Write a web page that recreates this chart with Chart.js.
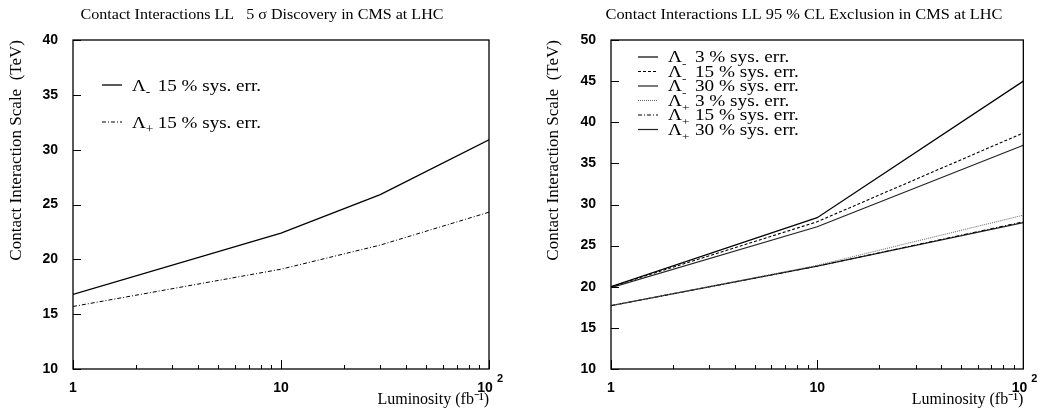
<!DOCTYPE html>
<html>
<head>
<meta charset="utf-8">
<script src="https://cdn.jsdelivr.net/npm/chart.js@4.4.1/dist/chart.umd.min.js"></script>
<style>
html, body { margin: 0; padding: 0; background: #fff; }
#wrap { display: flex; width: 1046px; height: 419px; }
.panel { width: 523px; height: 419px; }
</style>
</head>
<body>
<div id="wrap">
  <div class="panel"><canvas id="discovery" width="523" height="419"></canvas></div>
  <div class="panel"><canvas id="exclusion" width="523" height="419"></canvas></div>
</div>
<script>
// luminosity points (fb^-1)
const lumiDiscovery = [1, 10, 30, 100];
const lumiExclusion = [1, 10, 100];

// 5 sigma discovery reach (TeV)
const discMinus15 = [16.8, 22.4, 25.9, 30.9];
const discPlus15 = [15.7, 19.1, 21.3, 24.3];

// 95 % CL exclusion reach (TeV)
const exclMinus3 = [20.0, 28.4, 45.0];
const exclMinus15 = [20.0, 27.9, 38.7];
const exclMinus30 = [19.9, 27.3, 37.2];
const exclPlus3 = [17.7, 22.6, 28.7];
const exclPlus15 = [17.7, 22.5, 27.9];
const exclPlus30 = [17.7, 22.5, 27.8];

// tick label text, the exponent of 10^2 is drawn by the plugin
const xTickLabels = {1: '1', 10: '10', 100: '10  '};

const SERIF = '"Liberation Serif", "Times New Roman", serif';
const SANS = '"Liberation Sans", Arial, sans-serif';

function pts(xs, ys) {
    return xs.map((x, i) => ({x: x, y: ys[i]}));
}

// text squeezed/stretched horizontally, like the original figure
function drawStretched(ctx, text, x, y, sx) {
    ctx.save();
    ctx.translate(x, y);
    ctx.scale(sx, 1);
    ctx.fillText(text, 0, 0);
    ctx.restore();
    return ctx.measureText(text).width * sx;
}

// frame, inward tick marks, title and legend
const paperStyle = {
    id: 'paperStyle',
    afterDraw(chart, args, opts) {
        const ctx = chart.ctx;
        const a = chart.chartArea;
        const xs = chart.scales.x, ys = chart.scales.y;
        ctx.save();
        ctx.strokeStyle = '#000';
        ctx.lineWidth = 1.3;
        ctx.strokeRect(a.left, a.top, a.right - a.left, a.bottom - a.top);

        // x ticks (log decades)
        ctx.lineWidth = 1;
        for (let d = 1; d <= 100; d *= 10) {
            for (let m = 1; m <= 9; m++) {
                const v = d * m;
                if (v > 100) break;
                const px = Math.round(xs.getPixelForValue(v)) + 0.5;
                const len = m === 1 ? 9 : 4;
                ctx.beginPath();
                ctx.moveTo(px, a.bottom);
                ctx.lineTo(px, a.bottom - len);
                ctx.stroke();
            }
        }
        // y ticks
        ys.ticks.forEach(t => {
            const py = Math.round(ys.getPixelForValue(t.value)) + 0.5;
            ctx.beginPath();
            ctx.moveTo(a.left, py);
            ctx.lineTo(a.left + 8, py);
            ctx.stroke();
        });

        // exponent of the 10^2 tick label
        ctx.fillStyle = '#000';
        ctx.font = 'bold 11px ' + SANS;
        ctx.textAlign = 'left';
        ctx.textBaseline = 'middle';
        ctx.fillText('2', xs.getPixelForValue(100) + 8, a.bottom + 10);

        // title
        ctx.font = '15px ' + SERIF;
        const w = ctx.measureText(opts.title).width;
        const sx = opts.titleWidth / w;
        drawStretched(ctx, opts.title, opts.titleX - opts.titleWidth / 2, 15, sx);

        // legend
        const lg = opts.legend;
        chart.data.datasets.forEach((ds, i) => {
            const yy = lg.y + i * lg.step;
            ctx.save();
            ctx.strokeStyle = ds.borderColor;
            ctx.lineWidth = ds.borderWidth;
            ctx.setLineDash(ds.borderDash || []);
            ctx.beginPath();
            ctx.moveTo(lg.x, yy);
            ctx.lineTo(lg.x + 20, yy);
            ctx.stroke();
            ctx.restore();

            ctx.textBaseline = 'alphabetic';
            let tx = lg.x + 30;
            const base = yy + lg.size * 0.33;
            ctx.font = lg.size + 'px ' + SERIF;
            tx += drawStretched(ctx, 'Λ', tx, base, lg.sx);
            ctx.font = Math.round(lg.size * 0.7) + 'px ' + SERIF;
            drawStretched(ctx, ds.sign, tx, base + lg.size * 0.3, lg.sx);
            tx += lg.gap;
            ctx.font = lg.size + 'px ' + SERIF;
            drawStretched(ctx, ds.note, tx, base, lg.sx);
        });
        ctx.restore();
    }
};

function makeScales(yMax, yWidth, titleOffset) {
    return {
        x: {
            type: 'logarithmic',
            min: 1,
            max: 100,
            grid: { display: false, drawTicks: false },
            border: { display: false },
            ticks: {
                autoSkip: false,
                maxRotation: 0,
                padding: 11,
                color: '#000',
                font: { family: SANS, size: 14, weight: 'bold' },
                callback: v => xTickLabels[v] || ''
            },
            title: {
                display: true,
                text: 'Luminosity (fb⁻¹)',
                align: 'end',
                color: '#000',
                font: { family: SERIF, size: 16 },
                padding: { top: 0, bottom: 10 }
            },
            afterFit: s => { s.height = 50; }
        },
        y: {
            min: 10,
            max: yMax,
            grid: { display: false, drawTicks: false },
            border: { display: false },
            ticks: {
                stepSize: 5,
                padding: 15,
                color: '#000',
                font: { family: SANS, size: 14, weight: 'bold' }
            },
            title: {
                display: true,
                text: 'Contact Interaction Scale  (TeV)',
                align: 'end',
                color: '#000',
                font: { family: SERIF, size: 17 },
                padding: { top: titleOffset, bottom: 0 }
            },
            afterFit: s => { s.width = yWidth; }
        }
    };
}

function line(data, sign, note, color, dash, width) {
    return {
        data: data,
        sign: sign,
        note: note,
        label: 'Λ' + sign + ' ' + note,
        borderColor: color,
        borderDash: dash,
        borderWidth: width,
        pointRadius: 0,
        showLine: true,
        fill: false,
        tension: 0
    };
}

new Chart(document.getElementById('discovery'), {
    type: 'scatter',
    data: {
        datasets: [
            line(pts(lumiDiscovery, discMinus15), '-', '15 % sys. err.', '#000', [], 1.3),
            line(pts(lumiDiscovery, discPlus15), '+', '15 % sys. err.', '#000', [4, 2, 1, 2], 1)
        ]
    },
    options: {
        responsive: false,
        animation: false,
        devicePixelRatio: 1,
        layout: { padding: { top: 40, right: 34, left: 0, bottom: 0 } },
        scales: makeScales(40, 73, 6),
        plugins: {
            legend: { display: false },
            tooltip: { enabled: false },
            paperStyle: {
                title: 'Contact Interactions LL   5 σ Discovery in CMS at LHC',
                titleX: 262,
                titleWidth: 363,
                legend: { x: 102, y: 85, step: 37, size: 17, sx: 1.12, gap: 12 }
            }
        }
    },
    plugins: [paperStyle]
});

new Chart(document.getElementById('exclusion'), {
    type: 'scatter',
    data: {
        datasets: [
            line(pts(lumiExclusion, exclMinus3), '-', '3 % sys. err.', '#000', [], 1.2),
            line(pts(lumiExclusion, exclMinus15), '-', '15 % sys. err.', '#000', [3, 2], 1.1),
            line(pts(lumiExclusion, exclMinus30), '-', '30 % sys. err.', '#222', [], 1.2),
            line(pts(lumiExclusion, exclPlus3), '+', '3 % sys. err.', '#666', [1, 1], 1),
            line(pts(lumiExclusion, exclPlus15), '+', '15 % sys. err.', '#000', [4, 2, 1, 2], 1),
            line(pts(lumiExclusion, exclPlus30), '+', '30 % sys. err.', '#222', [], 1.2)
        ]
    },
    options: {
        responsive: false,
        animation: false,
        devicePixelRatio: 1,
        layout: { padding: { top: 40, right: 19, left: 0, bottom: 0 } },
        scales: makeScales(50, 88, 20),
        plugins: {
            legend: { display: false },
            tooltip: { enabled: false },
            paperStyle: {
                title: 'Contact Interactions LL 95 % CL Exclusion in CMS at LHC',
                titleX: 281,
                titleWidth: 397,
                legend: { x: 115, y: 57, step: 14.5, size: 16, sx: 1.2, gap: 13 }
            }
        }
    },
    plugins: [paperStyle]
});
</script>
</body>
</html>
